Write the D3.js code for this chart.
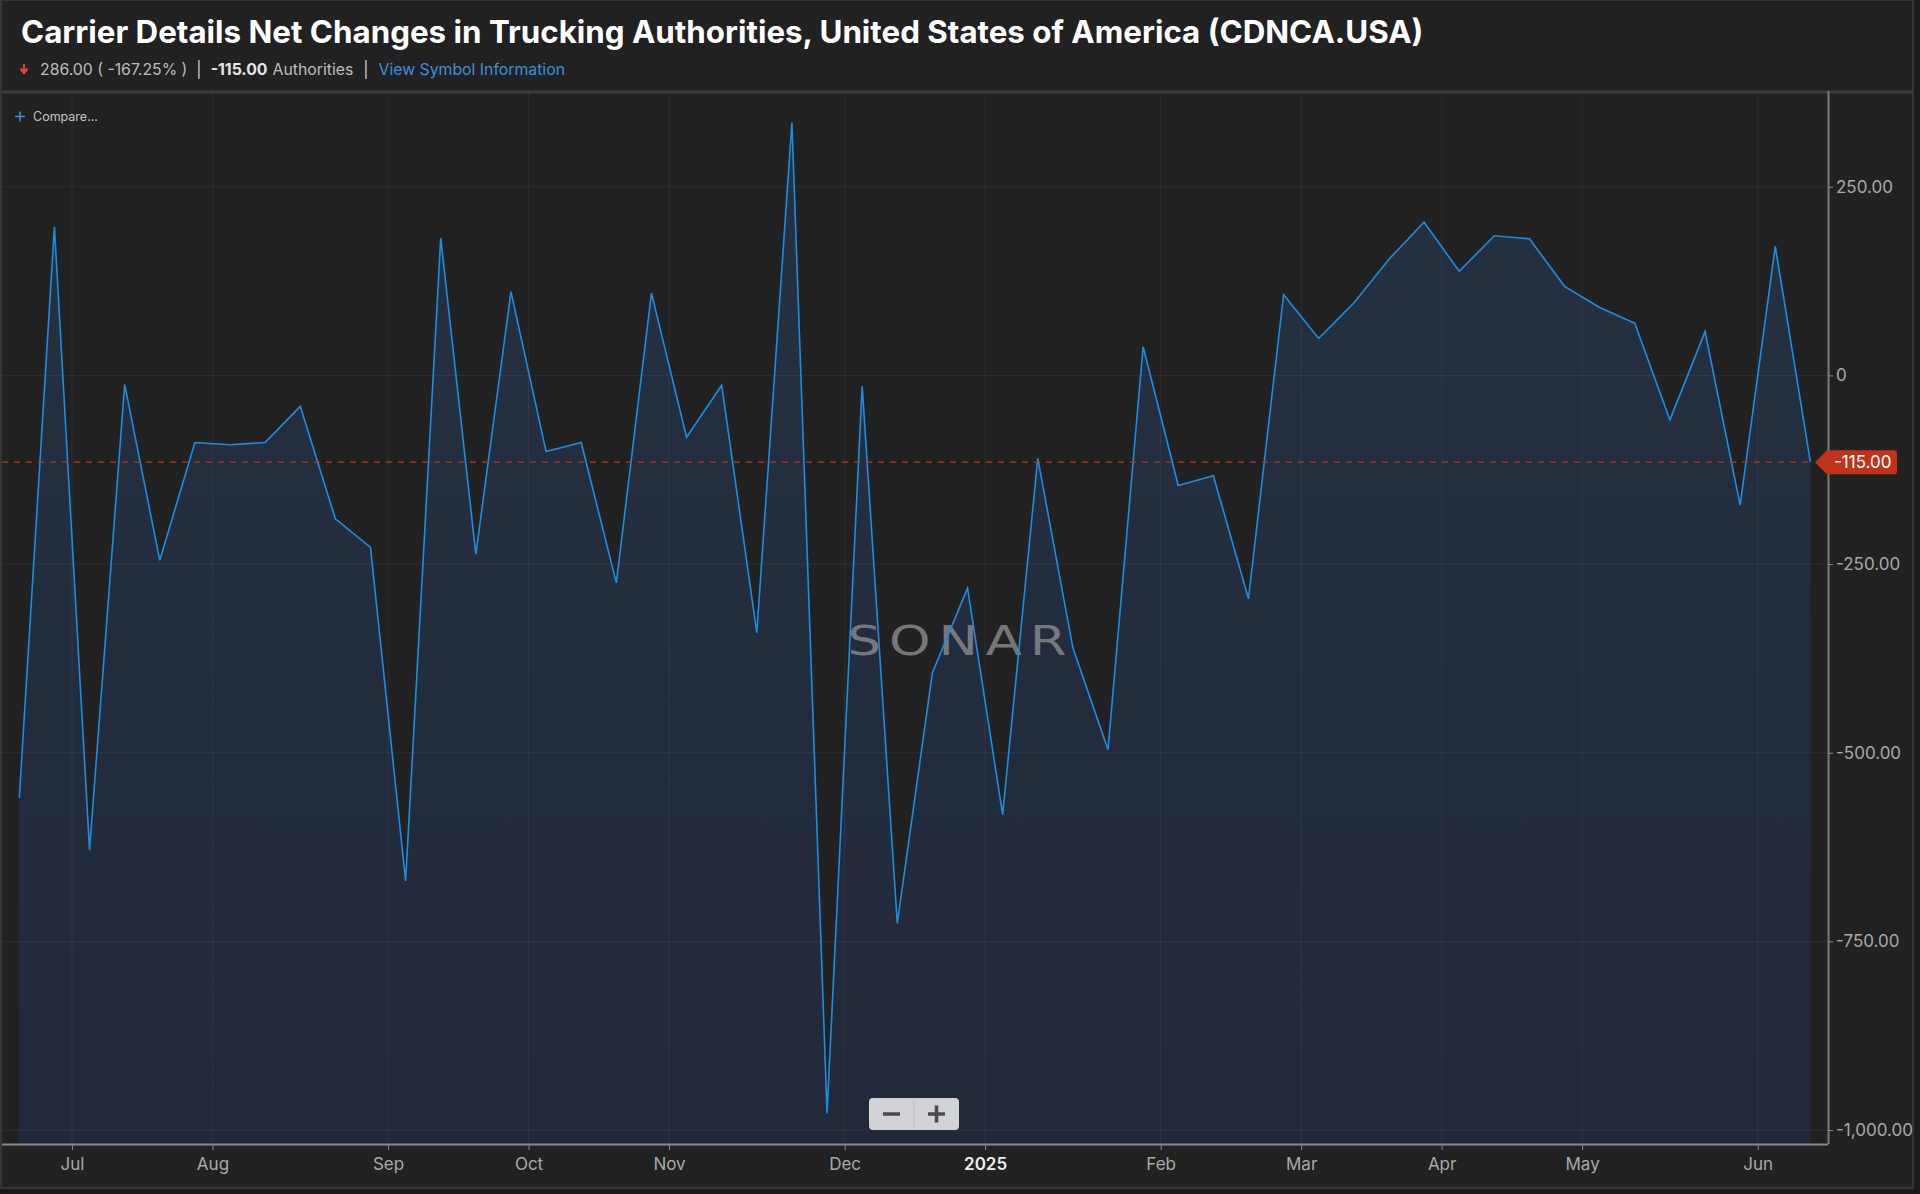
<!DOCTYPE html>
<html>
<head>
<meta charset="utf-8">
<script src="https://cdn.jsdelivr.net/npm/d3@7"></script>
<style>
  html, body { margin: 0; padding: 0; background: #1b1b1b; }
  svg { display: block; font-family: Inter, "Noto Sans", sans-serif; }
</style>
</head>
<body>
<svg id="chart"></svg>
<script>
// weekly observations (Fridays)
const weeks = [
  "2024-06-21","2024-06-28","2024-07-05","2024-07-12","2024-07-19","2024-07-26",
  "2024-08-02","2024-08-09","2024-08-16","2024-08-23","2024-08-30","2024-09-06",
  "2024-09-13","2024-09-20","2024-09-27","2024-10-04","2024-10-11","2024-10-18",
  "2024-10-25","2024-11-01","2024-11-08","2024-11-15","2024-11-22","2024-11-29",
  "2024-12-06","2024-12-13","2024-12-20","2024-12-27","2025-01-03","2025-01-10",
  "2025-01-17","2025-01-24","2025-01-31","2025-02-07","2025-02-14","2025-02-21",
  "2025-02-28","2025-03-07","2025-03-14","2025-03-21","2025-03-28","2025-04-04",
  "2025-04-11","2025-04-18","2025-04-25","2025-05-02","2025-05-09","2025-05-16",
  "2025-05-23","2025-05-30","2025-06-06","2025-06-13"
];

const netChanges = [
  -560, 197, -629, -12, -245, -89, -92, -89, -41, -190, -228, -670,
  182, -237, 111, -101, -89, -275, 109, -82, -13, -341, 335, -978,
  -14, -726, -394, -282, -582, -110, -361, -496, 38, -146, -133, -296,
  107, 49, 96, 154, 203, 138, 185, 181, 118, 90, 69, -59, 58, -172, 171, -115
];

const yTicks = [250, 0, -250, -500, -750, -1000];
const yTickLabels = ["250.00", "0", "-250.00", "-500.00", "-750.00", "-1,000.00"];
const monthNames = ["2025","Feb","Mar","Apr","May","Jun","Jul","Aug","Sep","Oct","Nov","Dec"];

const lastValue = -115;
const lastLabel = "-115.00";
const changeText = "286.00 ( -167.25% )";

const W = 1920, H = 1194;
const plotTop = 93, plotBottom = 1144, axisX = 1828;

const svg = d3.select("#chart").attr("width", W).attr("height", H);

const parse = d3.timeParse("%Y-%m-%d");
const data = weeks.map((w, i) => ({ i: i, date: parse(w), value: netChanges[i] }));

const x = d3.scaleLinear().domain([0, data.length - 1]).range([19.3, 1810.4]);
const y = d3.scaleLinear().domain([-1018.5, 374.2]).range([plotBottom, plotTop]);

// month boundaries sit halfway between the last week of one month and the first of the next
let monthTicks = [];
for (let i = 1; i < data.length; i++) {
  if (data[i].date.getMonth() !== data[i - 1].date.getMonth()) {
    monthTicks.push({ pos: i - 0.5, label: monthNames[data[i].date.getMonth()] });
  }
}

// panel
svg.append("rect").attr("x", 1).attr("y", 0).attr("width", 1912).attr("height", 1188)
  .attr("fill", "#212121").attr("stroke", "#353535").attr("stroke-width", 2);

// header
const title = svg.append("text")
  .attr("x", 21).attr("y", 43)
  .attr("fill", "#ffffff").attr("font-weight", 700).attr("font-size", 32)
  .text("Carrier Details Net Changes in Trucking Authorities, United States of America (CDNCA.USA)");
const tl = title.node().getComputedTextLength();
title.attr("font-size", 32 * 1403 / tl);

svg.append("path")
  .attr("d", "M24,64 L24,71 M20.5,68.5 L24,73 L27.5,68.5")
  .attr("stroke", "#e0443a").attr("stroke-width", 2.2).attr("fill", "none");

const sub = svg.append("text").attr("x", 40).attr("y", 75).attr("font-size", 15.8);
sub.append("tspan").attr("fill", "#bdbdbd").text(changeText);
sub.append("tspan").attr("fill", "#cfcfcf").attr("dx", 9).text("|");
sub.append("tspan").attr("fill", "#e6e6e6").attr("font-weight", 700).attr("dx", 9).text(lastLabel);
sub.append("tspan").attr("fill", "#bdbdbd").attr("dx", 5).text("Authorities");
sub.append("tspan").attr("fill", "#cfcfcf").attr("dx", 10).text("|");
sub.append("tspan").attr("fill", "#3d8fdb").attr("dx", 10).text("View Symbol Information");

svg.append("line").attr("x1", 1).attr("x2", 1913).attr("y1", 92).attr("y2", 92)
  .attr("stroke", "#3a3a3a").attr("stroke-width", 3);

// area + line
const area = d3.area()
  .x(d => x(d.i)).y0(plotBottom).y1(d => y(d.value));
const line = d3.line()
  .x(d => x(d.i)).y(d => y(d.value));

const grad = svg.append("defs").append("linearGradient")
  .attr("id", "fillGrad").attr("x1", 0).attr("x2", 0).attr("y1", 0).attr("y2", 1);
grad.append("stop").attr("offset", "0%").attr("stop-color", "#243040");
grad.append("stop").attr("offset", "100%").attr("stop-color", "#212839");

svg.append("path").datum(data).attr("d", area).attr("fill", "url(#fillGrad)");

// grid
const grid = svg.append("g");
grid.selectAll("line.h").data(yTicks).join("line")
  .attr("x1", 2).attr("x2", axisX).attr("y1", d => y(d)).attr("y2", d => y(d))
  .attr("stroke", "#ffffff").attr("stroke-opacity", 0.06);
grid.selectAll("line.v").data(monthTicks).join("line")
  .attr("x1", d => x(d.pos)).attr("x2", d => x(d.pos)).attr("y1", plotTop).attr("y2", plotBottom)
  .attr("stroke", "#ffffff").attr("stroke-opacity", 0.06);

// watermark
svg.append("text")
  .attr("transform", "translate(961,655) scale(1.32,1)")
  .attr("text-anchor", "middle").attr("font-size", 40).attr("font-weight", 400)
  .attr("letter-spacing", 6).attr("fill", "#8e8e8e").attr("fill-opacity", 0.8)
  .attr("font-family", "'DejaVu Sans', sans-serif")
  .text("SONAR");

svg.append("path").datum(data).attr("d", line)
  .attr("fill", "none").attr("stroke", "#1b8ee4").attr("stroke-width", 1.6)
  .attr("stroke-linejoin", "miter");

// last value line
svg.append("line").attr("x1", 2).attr("x2", x(data.length - 1))
  .attr("y1", y(lastValue)).attr("y2", y(lastValue))
  .attr("stroke", "#b23a22").attr("stroke-width", 1.2).attr("stroke-dasharray", "6,6");

// right axis
const yAxis = d3.axisRight(y).tickValues(yTicks)
  .tickFormat((d, i) => yTickLabels[i]).tickSize(5).tickPadding(3);
const ya = svg.append("g").attr("transform", `translate(${axisX},0)`).call(yAxis);
ya.select(".domain").attr("d", `M0.5,${plotTop - 2}V${plotBottom}`).attr("stroke", "#7a7a7a").attr("stroke-width", 2);
ya.selectAll(".tick line").attr("stroke", "#8a8a8a");
ya.selectAll(".tick text").attr("fill", "#a9a9a9").attr("font-size", 17)
  .attr("font-family", "Inter, sans-serif");

// last value tag
const ty = y(lastValue);
svg.append("path")
  .attr("d", `M1815,${ty} L1827,${ty - 12} L1894,${ty - 12} Q1897,${ty - 12} 1897,${ty - 9} L1897,${ty + 9} Q1897,${ty + 12} 1894,${ty + 12} L1827,${ty + 12} Z`)
  .attr("fill", "#c0321a");
svg.append("text").attr("x", 1834).attr("y", ty + 6)
  .attr("fill", "#ffffff").attr("font-size", 17).text(lastLabel);

// bottom axis
const xAxis = d3.axisBottom(x).tickValues(monthTicks.map(d => d.pos))
  .tickFormat((d, i) => monthTicks[i].label).tickSize(6).tickPadding(8);
const xa = svg.append("g").attr("transform", `translate(0,${plotBottom})`).call(xAxis);
xa.select(".domain").attr("d", `M2,0.5H${axisX}`).attr("stroke", "#8a8a8a").attr("stroke-width", 2);
xa.selectAll(".tick line").attr("stroke", "#8a8a8a");
xa.selectAll(".tick text").attr("font-size", 17).attr("font-family", "Inter, sans-serif")
  .attr("fill", (d, i) => monthTicks[i].label === "2025" ? "#f0f0f0" : "#a9a9a9")
  .attr("font-weight", (d, i) => monthTicks[i].label === "2025" ? 600 : 400);

// compare control
svg.append("path").attr("d", "M15,116.5 H25 M20,111.5 V121.5")
  .attr("stroke", "#3d8fdb").attr("stroke-width", 1.6);
svg.append("text").attr("x", 33).attr("y", 121).attr("font-size", 12.5)
  .attr("fill", "#c4c4c4").text("Compare...");

// zoom buttons
const zb = svg.append("g");
zb.append("rect").attr("x", 869).attr("y", 1098).attr("width", 90).attr("height", 32)
  .attr("rx", 4).attr("fill", "#d2d3d7");
zb.append("line").attr("x1", 914).attr("x2", 914).attr("y1", 1101).attr("y2", 1127)
  .attr("stroke", "#b8b9bd");
zb.append("path").attr("d", "M883,1114 H900").attr("stroke", "#4a4a4a").attr("stroke-width", 3.5);
zb.append("path").attr("d", "M928,1114 H945 M936.5,1105.5 V1122.5").attr("stroke", "#4a4a4a").attr("stroke-width", 3.5);
</script>
</body>
</html>
